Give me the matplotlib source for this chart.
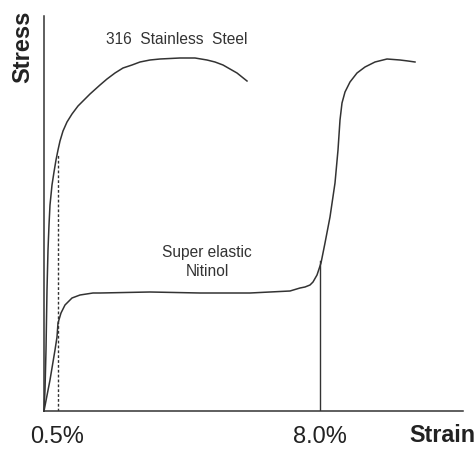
import matplotlib.pyplot as plt

plt.rcParams['font.family'] = ['Liberation Sans', 'DejaVu Sans']

# schematic stress-strain curves (arbitrary units)
steel_strain = [0, 1, 2, 3, 4, 5, 6, 8, 10, 12, 14, 16, 19, 23, 28, 34, 40, 46, 56, 63, 71, 79, 88,
                96, 106, 116, 136, 151, 163, 171, 179, 186, 193, 198, 203]
steel_stress = [0, 21, 61, 121, 161, 186, 206, 226, 239, 251, 261, 270, 280, 289, 297, 305, 311, 317, 326,
                332, 338, 343, 346, 349, 351, 352, 353, 353, 351, 349, 346, 342, 338, 334, 330]

niti_strain = [0, 6, 11, 13, 14, 17, 21, 28, 36, 49, 56, 106, 156, 206, 246, 256, 261, 266, 269, 273,
               277, 281, 286, 291, 294, 295, 296, 298, 301, 306, 313, 321, 331, 343, 356, 364, 371]
niti_stress = [0, 31, 61, 74, 88, 98, 106, 113, 116, 118, 118, 119, 118, 118, 120, 123, 124, 126, 129, 136,
               148, 168, 194, 228, 261, 276, 291, 308, 319, 329, 338, 344, 349, 352, 351, 350, 349]

tick_pos = [13.5, 276]
tick_labels = ['0.5%', '8.0%']
marker_top = [256, 150]  # height of dashed / solid guide lines

ink = '#333333'

fig = plt.figure(figsize=(4.74, 4.5), dpi=100)
ax = fig.add_axes([44/474, 39/450, 419/474, 395/450])

ax.plot(steel_strain, steel_stress, color=ink, lw=1.1, clip_on=False, solid_joinstyle='round')
ax.plot(niti_strain, niti_stress, color=ink, lw=1.1, clip_on=False, solid_joinstyle='round')
ax.plot([tick_pos[0], tick_pos[0]], [0, marker_top[0]], color=ink, lw=1.0, ls=(0, (2, 1.5)))
ax.plot([tick_pos[1], tick_pos[1]], [0, marker_top[1]], color=ink, lw=1.0)

ax.text(133, 371, '316  Stainless  Steel', ha='center', va='center', fontsize=11.2, color=ink)
ax.text(163, 149, 'Super elastic\nNitinol', ha='center', va='center', fontsize=11.2,
        color=ink, linespacing=1.3, multialignment='center')

ax.set_xlim(0, 419)
ax.set_ylim(0, 395)
ax.set_xticks(tick_pos)
ax.set_xticklabels(tick_labels)
ax.set_yticks([])
ax.tick_params(axis='x', length=0, pad=11, labelsize=17, labelcolor='#222222')
for s in ['top', 'right']:
    ax.spines[s].set_visible(False)
for s in ['left', 'bottom']:
    ax.spines[s].set_color(ink)
    ax.spines[s].set_linewidth(1.1)

fig.text(23/474, 1 - 47/450, 'Stress', rotation=90, ha='center', va='center',
         fontsize=17, fontweight='bold', color='#222222')
fig.text(442/474, 1 - 435/450, 'Strain', ha='center', va='center',
         fontsize=16.8, fontweight='bold', color='#222222')

fig.savefig('out.png', dpi=100)
